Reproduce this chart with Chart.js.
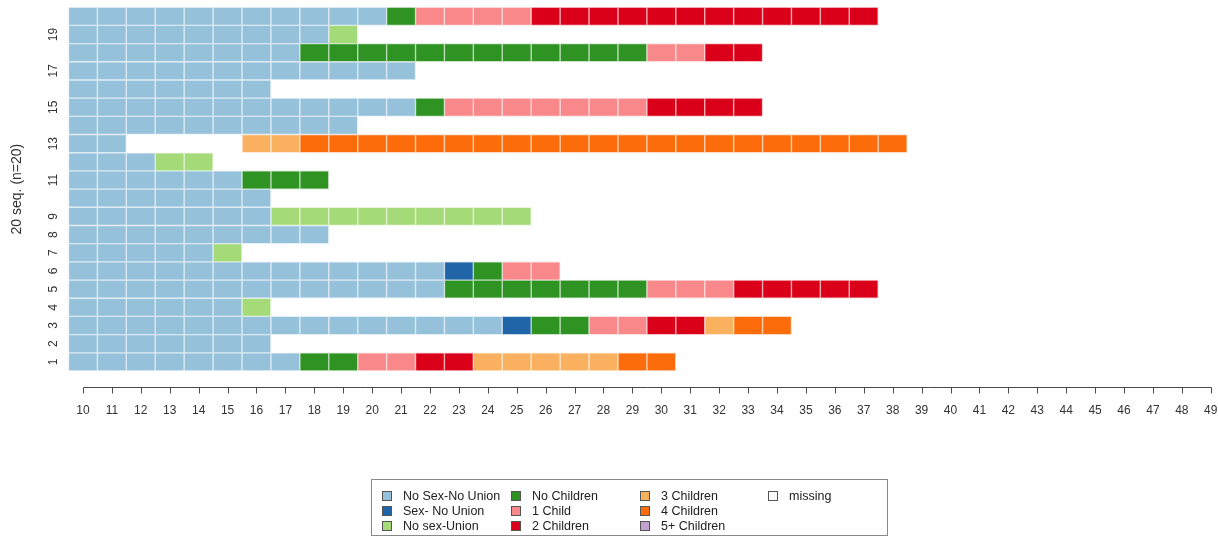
<!DOCTYPE html>
<html>
<head>
<meta charset="utf-8">
<script src="https://cdn.jsdelivr.net/npm/chart.js@4/dist/chart.umd.min.js"></script>
<style>
  html, body { margin: 0; padding: 0; background: #fff; }
  #wrap { position: relative; width: 1218px; height: 539px; overflow: hidden; }
  #chart { position: absolute; left: 0; top: 0; }
  #legend {
    position: absolute; left: 371px; top: 479px; width: 517px; height: 57px;
    border: 1px solid #8a8a8a; box-sizing: border-box;
    font-family: 'Liberation Sans', Arial, Helvetica, sans-serif; font-size: 12.5px; color: #222;
    display: grid; grid-auto-flow: column;
    grid-template-rows: repeat(3, 15px);
    grid-template-columns: 129px 129px 128px auto;
    padding: 8px 0 0 10px;
  }
  .li { display: flex; align-items: center; white-space: nowrap; height: 15px; }
  .sw { width: 8px; height: 8px; border: 1px solid #555; margin-right: 11px; flex: none; }
</style>
</head>
<body>
<div id="wrap">
  <canvas id="chart" width="1218" height="539"></canvas>
  <div id="legend"></div>
</div>
<script>
// ---- data ----
const STATES = ['No Sex-No Union', 'Sex- No Union', 'No sex-Union', 'No Children', '1 Child',
                '2 Children', '3 Children', '4 Children', '5+ Children'];
const MISSING_LABEL = 'missing';
const FIRST_AGE = 10;
const X_TICKS = [10, 11, 12, 13, 14, 15, 16, 17, 18, 19, 20, 21, 22, 23, 24, 25, 26, 27, 28, 29,
                 30, 31, 32, 33, 34, 35, 36, 37, 38, 39, 40, 41, 42, 43, 44, 45, 46, 47, 48, 49];
const Y_TICKS = [1, 2, 3, 4, 5, 6, 7, 8, 9, 11, 13, 15, 17, 19];
const ROW_IDS = [1, 2, 3, 4, 5, 6, 7, 8, 9, 10, 11, 12, 13, 14, 15, 16, 17, 18, 19, 20];
const Y_TITLE = '20 seq. (n=20)';
// state index per year of age starting at FIRST_AGE; null = missing
const SEQ_1  = [0,0,0,0,0,0,0,0,3,3,4,4,5,5,6,6,6,6,6,7,7];
const SEQ_2  = [0,0,0,0,0,0,0];
const SEQ_3  = [0,0,0,0,0,0,0,0,0,0,0,0,0,0,0,1,3,3,4,4,5,5,6,7,7];
const SEQ_4  = [0,0,0,0,0,0,2];
const SEQ_5  = [0,0,0,0,0,0,0,0,0,0,0,0,0,3,3,3,3,3,3,3,4,4,4,5,5,5,5,5];
const SEQ_6  = [0,0,0,0,0,0,0,0,0,0,0,0,0,1,3,4,4];
const SEQ_7  = [0,0,0,0,0,2];
const SEQ_8  = [0,0,0,0,0,0,0,0,0];
const SEQ_9  = [0,0,0,0,0,0,0,2,2,2,2,2,2,2,2,2];
const SEQ_10 = [0,0,0,0,0,0,0];
const SEQ_11 = [0,0,0,0,0,0,3,3,3];
const SEQ_12 = [0,0,0,2,2];
const SEQ_13 = [0,0,null,null,null,null,6,6,7,7,7,7,7,7,7,7,7,7,7,7,7,7,7,7,7,7,7,7,7];
const SEQ_14 = [0,0,0,0,0,0,0,0,0,0];
const SEQ_15 = [0,0,0,0,0,0,0,0,0,0,0,0,3,4,4,4,4,4,4,4,5,5,5,5];
const SEQ_16 = [0,0,0,0,0,0,0];
const SEQ_17 = [0,0,0,0,0,0,0,0,0,0,0,0];
const SEQ_18 = [0,0,0,0,0,0,0,0,3,3,3,3,3,3,3,3,3,3,3,3,4,4,5,5];
const SEQ_19 = [0,0,0,0,0,0,0,0,0,2];
const SEQ_20 = [0,0,0,0,0,0,0,0,0,0,0,3,4,4,4,4,5,5,5,5,5,5,5,5,5,5,5,5];

// ---- styles ----
const STATE_COLORS = ['#96C1DB', '#1F65A8', '#A5DA79', '#2E9322', '#F9888A',
                      '#DA0019', '#FAB15F', '#FD6C0B', '#BFA3CE'];
const FONT = "'Liberation Sans', Arial, Helvetica, sans-serif";

const SEQUENCES = [SEQ_1, SEQ_2, SEQ_3, SEQ_4, SEQ_5, SEQ_6, SEQ_7, SEQ_8, SEQ_9, SEQ_10,
                   SEQ_11, SEQ_12, SEQ_13, SEQ_14, SEQ_15, SEQ_16, SEQ_17, SEQ_18, SEQ_19, SEQ_20];

// one dataset per state; each cell is a floating bar spanning one year of age
const datasets = STATES.map((name, s) => {
  const data = [];
  SEQUENCES.forEach((seq, r) => {
    seq.forEach((code, i) => {
      if (code === s) {
        const age = FIRST_AGE + i;
        data.push({ x: [age - 0.5, age + 0.5], y: ROW_IDS[r] });
      }
    });
  });
  return {
    label: name,
    data,
    backgroundColor: STATE_COLORS[s],
    borderColor: STATE_COLORS[s] + '40'
  };
});

const axisLine = {
  id: 'axisLine',
  afterDraw(chart) {
    const xs = chart.scales.x;
    const ctx = chart.ctx;
    const y = Math.round(chart.chartArea.bottom + 16) + 0.5;
    const t = xs.ticks;
    ctx.save();
    ctx.strokeStyle = '#4a4a4a';
    ctx.lineWidth = 1;
    ctx.beginPath();
    ctx.moveTo(Math.round(xs.getPixelForValue(t[0].value)) + 0.5, y);
    ctx.lineTo(Math.round(xs.getPixelForValue(t[t.length - 1].value)) + 0.5, y);
    t.forEach(tk => {
      const px = Math.round(xs.getPixelForValue(tk.value)) + 0.5;
      ctx.moveTo(px, y);
      ctx.lineTo(px, y + 6);
    });
    ctx.stroke();
    ctx.restore();
  }
};

new Chart(document.getElementById('chart'), {
  type: 'bar',
  data: { datasets },
  options: {
    indexAxis: 'y',
    responsive: false,
    animation: false,
    devicePixelRatio: 1,
    layout: { padding: { top: 7, right: 0, bottom: 0, left: 0 } },
    plugins: { legend: { display: false }, tooltip: { enabled: false } },
    datasets: {
      bar: { grouped: false, categoryPercentage: 1, barPercentage: 1, borderWidth: 1, borderSkipped: false }
    },
    scales: {
      x: {
        type: 'linear', min: 9.5, max: 49.25, offset: false,
        grid: { display: false, drawTicks: true, tickLength: 32, offset: false },
        border: { display: false },
        afterBuildTicks: s => { s.ticks = X_TICKS.map(v => ({ value: v })); },
        afterFit: s => { s.height = 168; },
        ticks: { autoSkip: false, maxRotation: 0, minRotation: 0, padding: 0, color: '#333',
                 font: { family: FONT, size: 12 } }
      },
      y: {
        type: 'linear', min: 0.5, max: 20.5, offset: false,
        grid: { display: false, drawTicks: true, tickLength: 8, offset: false },
        border: { display: false },
        afterBuildTicks: s => { s.ticks = Y_TICKS.map(v => ({ value: v })); },
        afterFit: s => { s.width = 68.5; },
        ticks: { autoSkip: false, minRotation: 90, maxRotation: 90, crossAlign: 'center', padding: 0,
                 color: '#333', font: { family: FONT, size: 12 } },
        title: { display: true, text: Y_TITLE, color: '#333', padding: { top: 9, bottom: 0 },
                 font: { family: FONT, size: 14 } }
      }
    }
  },
  plugins: [axisLine]
});

// legend (column-major, 3 rows)
const legendEl = document.getElementById('legend');
STATES.concat([MISSING_LABEL]).forEach((name, i) => {
  const item = document.createElement('div');
  item.className = 'li';
  const sw = document.createElement('span');
  sw.className = 'sw';
  sw.style.background = i < STATE_COLORS.length ? STATE_COLORS[i] : '#fff';
  const tx = document.createElement('span');
  tx.textContent = name;
  item.appendChild(sw);
  item.appendChild(tx);
  legendEl.appendChild(item);
});
</script>
</body>
</html>
